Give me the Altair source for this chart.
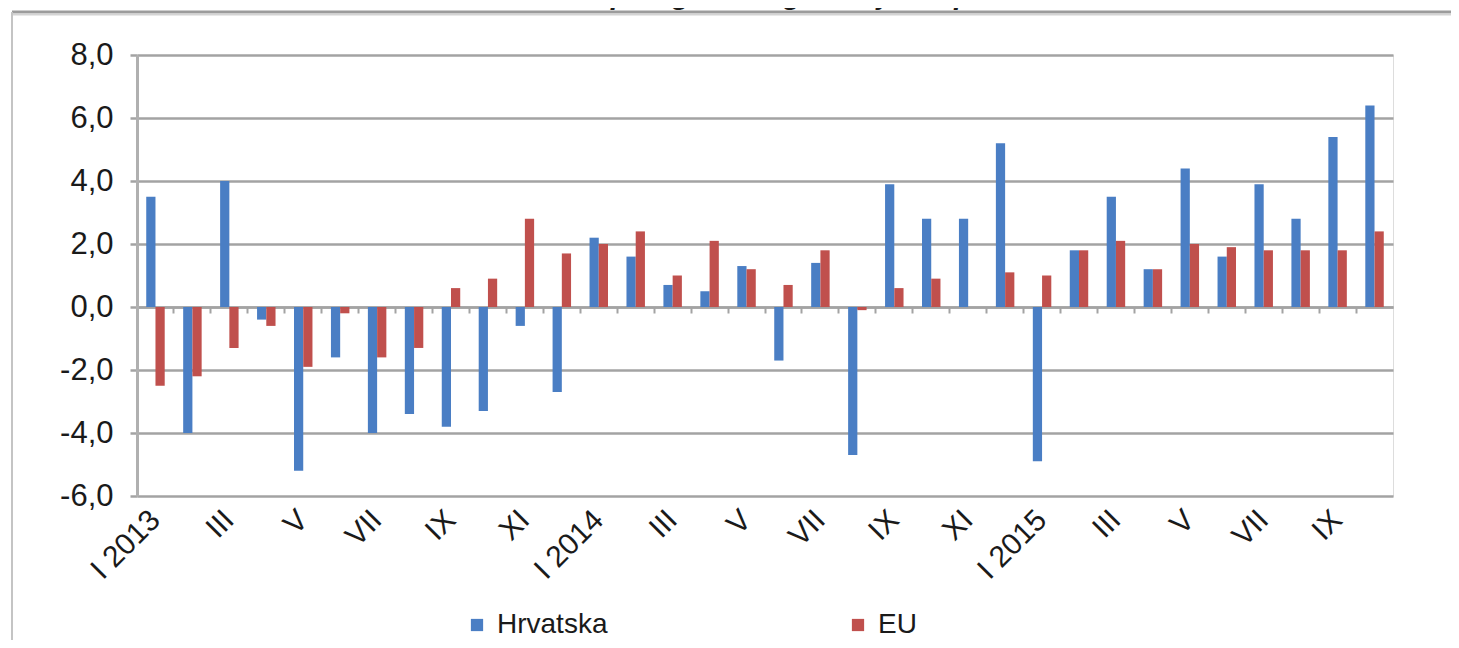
import json
import altair as alt
import pandas as pd

months = ["I 2013", "II 2013", "III 2013", "IV 2013", "V 2013", "VI 2013",
          "VII 2013", "VIII 2013", "IX 2013", "X 2013", "XI 2013", "XII 2013",
          "I 2014", "II 2014", "III 2014", "IV 2014", "V 2014", "VI 2014",
          "VII 2014", "VIII 2014", "IX 2014", "X 2014", "XI 2014", "XII 2014",
          "I 2015", "II 2015", "III 2015", "IV 2015", "V 2015", "VI 2015",
          "VII 2015", "VIII 2015", "IX 2015", "X 2015"]
tick_labels = ["I 2013", "", "III", "", "V", "", "VII", "", "IX", "", "XI", "",
               "I 2014", "", "III", "", "V", "", "VII", "", "IX", "", "XI", "",
               "I 2015", "", "III", "", "V", "", "VII", "", "IX", ""]
hrvatska = [3.5, -4.0, 4.0, -0.4, -5.2, -1.6, -4.0, -3.4, -3.8, -3.3, -0.6, -2.7,
            2.2, 1.6, 0.7, 0.5, 1.3, -1.7, 1.4, -4.7, 3.9, 2.8, 2.8, 5.2,
            -4.9, 1.8, 3.5, 1.2, 4.4, 1.6, 3.9, 2.8, 5.4, 6.4]
eu = [-2.5, -2.2, -1.3, -0.6, -1.9, -0.2, -1.6, -1.3, 0.6, 0.9, 2.8, 1.7,
      2.0, 2.4, 1.0, 2.1, 1.2, 0.7, 1.8, -0.1, 0.6, 0.9, 0.0, 1.1,
      1.0, 1.8, 2.1, 1.2, 2.0, 1.9, 1.8, 1.8, 1.8, 2.4]
series = ["Hrvatska", "EU"]
colors = ["#4a7ec4", "#c0504d"]
title_text = "Kalendarski prilagođene godišnje stope rasta"
y_ticks = [-6, -4, -2, 0, 2, 4, 6, 8]

rows = []
for i, m in enumerate(months):
    rows.append({"idx": i, "month": m, "series": "Hrvatska", "value": hrvatska[i]})
    rows.append({"idx": i, "month": m, "series": "EU", "value": eu[i]})
df = pd.DataFrame(rows)

W, H = 1256, 441
PAD_L, PAD_T = 129, 47
TOTAL_W, TOTAL_H = 1443, 632
FONT = "Liberation Sans"
GRID = "#a3a3a3"

label_expr = json.dumps(tick_labels) + "[datum.value]"

bars = alt.Chart(df).mark_bar().encode(
    x=alt.X("idx:O", title=None,
            scale=alt.Scale(paddingInner=0, paddingOuter=0),
            axis=alt.Axis(orient="bottom", offset=-189, labelExpr=label_expr,
                          labelAngle=-45, labelAlign="right", labelBaseline="middle",
                          labelPadding=202, labelFontSize=30, labelFont=FONT,
                          labelColor="#1a1a1a", domainColor=GRID, domainWidth=2.5,
                          tickColor=GRID, tickWidth=2, tickSize=6, bandPosition=0,
                          grid=False, labelOverlap=False)),
    xOffset=alt.XOffset("series:N", sort=series,
                        scale=alt.Scale(paddingInner=0, paddingOuter=1)),
    y=alt.Y("value:Q", title=None,
            scale=alt.Scale(domain=[-6, 8], nice=False, zero=False),
            axis=alt.Axis(values=y_ticks,
                          labelExpr="replace(replace(format(datum.value, '.1f'), '.', ','), '\u2212', '-')",
                          labelFontSize=31, labelFont=FONT, labelColor="#1a1a1a",
                          labelPadding=17, tickSize=7, tickColor=GRID, tickWidth=2.5,
                          domainColor="#b0b0b0", domainWidth=3,
                          grid=True, gridColor=GRID, gridWidth=2.5)),
    color=alt.Color("series:N", sort=series,
                    scale=alt.Scale(domain=series, range=colors),
                    legend=alt.Legend(title=None, orient="none", direction="horizontal",
                                      legendX=326, legendY=556, symbolType="square",
                                      symbolSize=150, symbolStrokeWidth=0,
                                      labelFontSize=28, labelFont=FONT,
                                      labelColor="#1a1a1a", labelOffset=6,
                                      columnPadding=236)),
)

deco = alt.Data(values=[{"k": 1}])
top_line = alt.Chart(deco).mark_rule(color="#9c9c9c", strokeWidth=3).encode(
    x=alt.value(-125), x2=alt.value(TOTAL_W - PAD_L), y=alt.value(-43))
top_shadow = alt.Chart(deco).mark_rule(color="#d4d4d4", strokeWidth=2).encode(
    x=alt.value(-125), x2=alt.value(TOTAL_W - PAD_L), y=alt.value(-40.5))
left_line = alt.Chart(deco).mark_rule(color="#c4c4c4", strokeWidth=2).encode(
    x=alt.value(-125), y=alt.value(-43), y2=alt.value(TOTAL_H - PAD_T))
title = alt.Chart(deco).mark_text(
    text=title_text, font=FONT, fontSize=29, fontWeight="bold", fontStyle="italic",
    color="#1a1a1a", align="center", baseline="alphabetic").encode(
    x=alt.value(615), y=alt.value(-51))

chart = alt.layer(top_line, top_shadow, left_line, title, bars).properties(
    width=W, height=H,
    autosize=alt.AutoSizeParams(type="none"),
    padding={"left": PAD_L, "top": PAD_T, "right": TOTAL_W - PAD_L - W,
             "bottom": TOTAL_H - PAD_T - H},
).configure_view(stroke=None).configure(background="white")

chart.save("out.html", embed_options={"renderer": "svg", "actions": False})
